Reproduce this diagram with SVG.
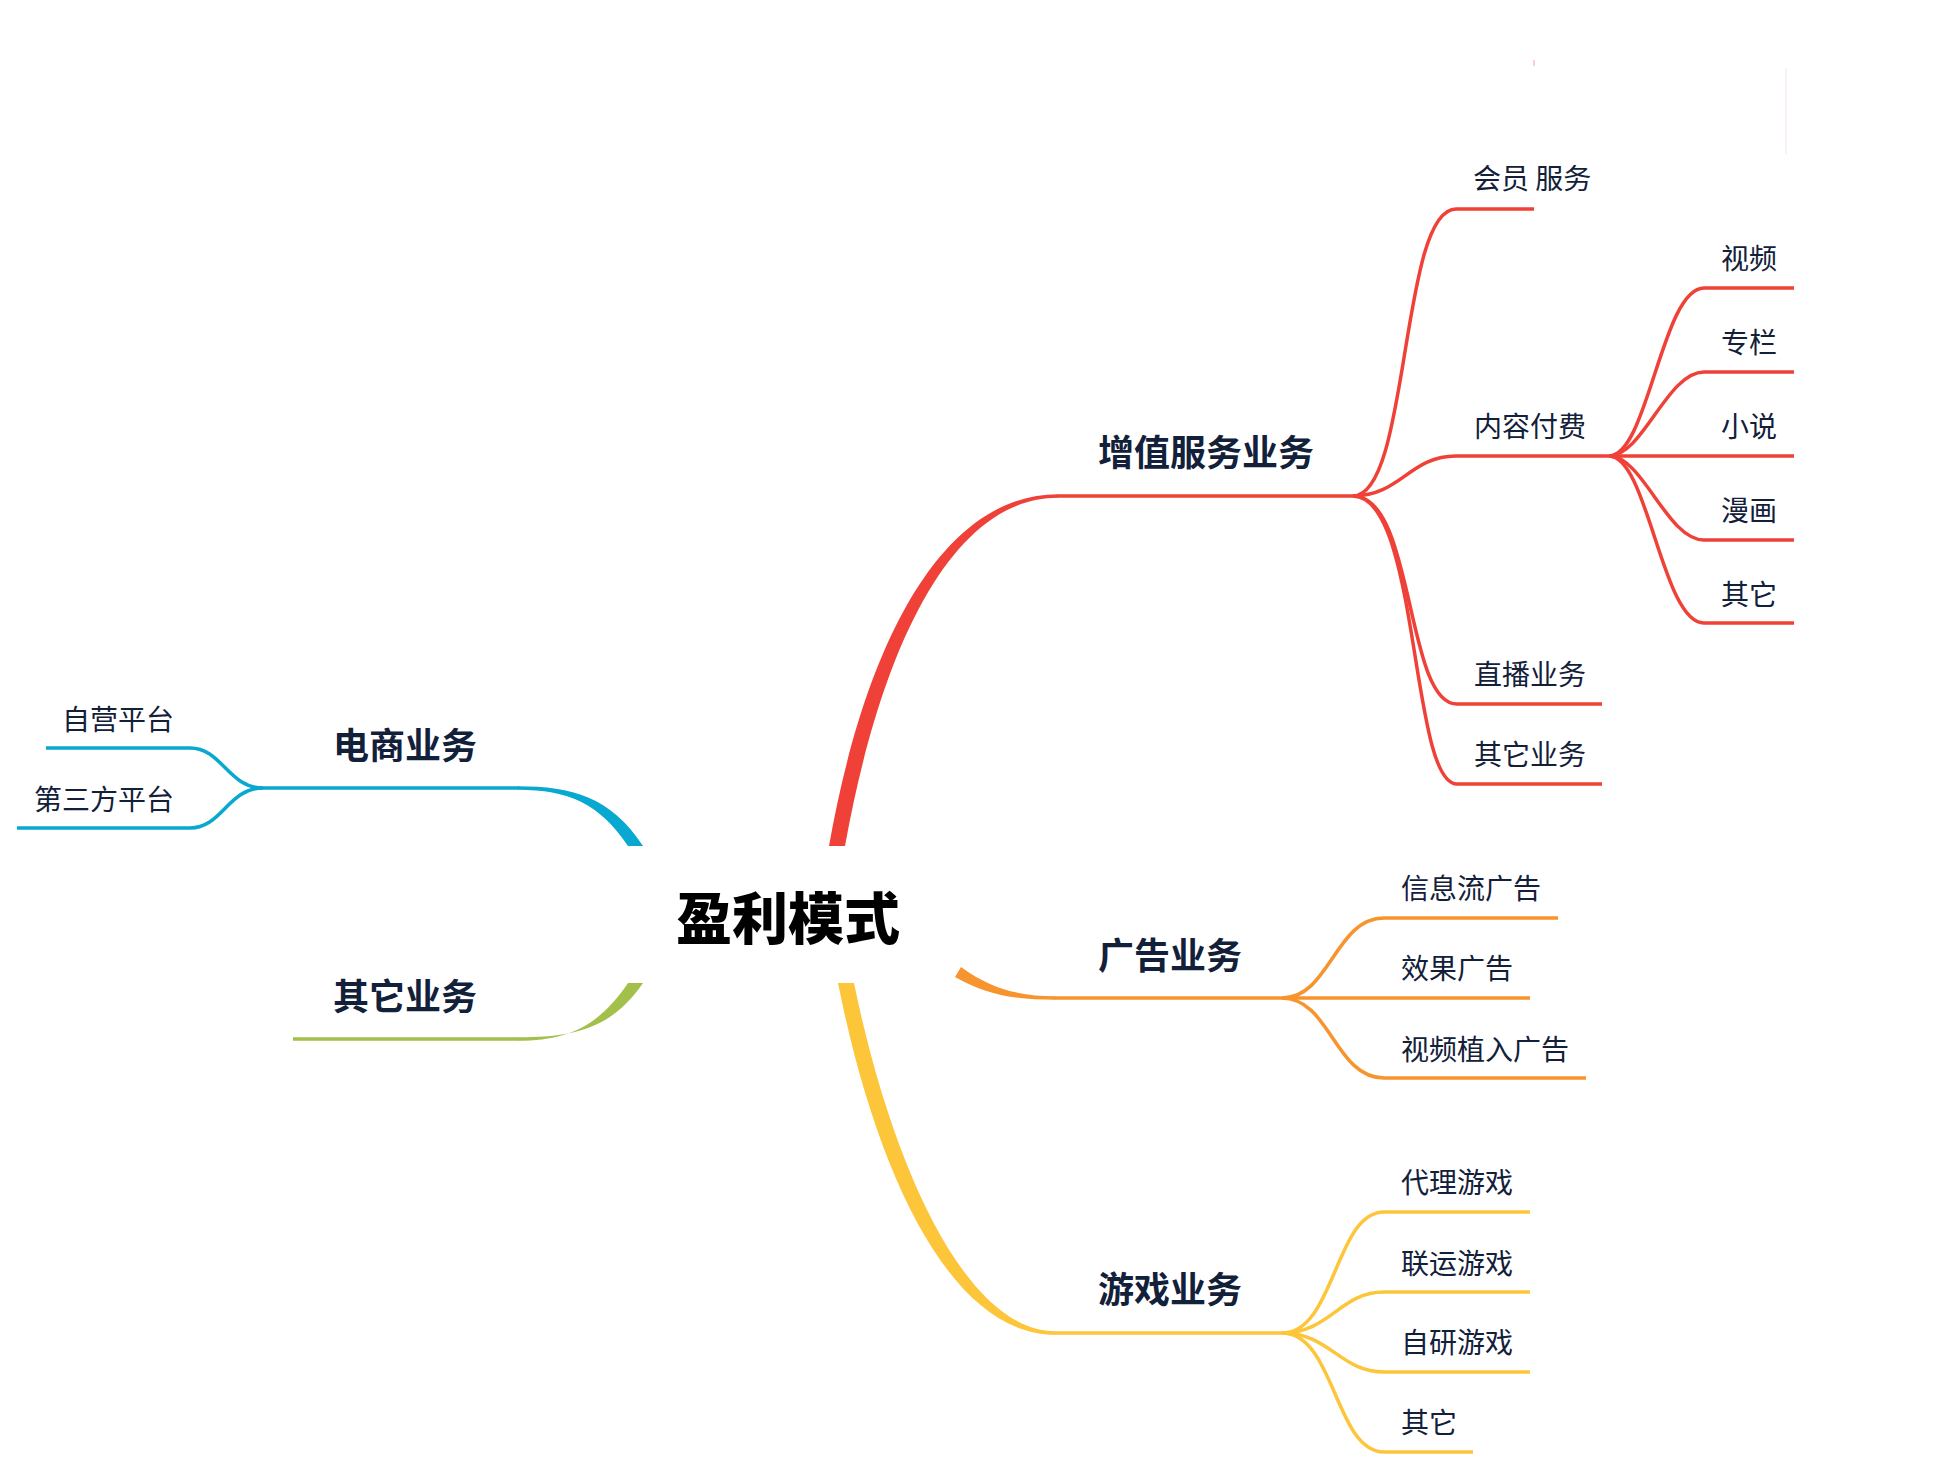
<svg xmlns="http://www.w3.org/2000/svg" width="1951" height="1483" viewBox="0 0 1951 1483">
<style>
.t{font-family:"Noto Sans CJK SC","Noto Sans CJK JP",sans-serif;fill:#12203A;dominant-baseline:central}
.b{font-size:36px;font-weight:700}
.s{font-size:28px;font-weight:400}
.root{font-family:"Noto Sans CJK SC",sans-serif;font-size:56px;font-weight:900;fill:#000;dominant-baseline:central}
.ln{fill:none;stroke-width:3.5;stroke-linecap:butt}
.red{stroke:#EF4137}.org{stroke:#F7942E}.yel{stroke:#FDC63A}.grn{stroke:#A3C14A}.blu{stroke:#08A8D0}
</style>
<rect width="1951" height="1483" fill="#fff"/>
<line x1="1534" y1="60" x2="1534" y2="66" stroke="#F4A0A0" stroke-width="1"/>
<line x1="1786" y1="68" x2="1786" y2="154" stroke="#F8E4E4" stroke-width="1"/>
<g id="connectors">
  <path fill="#EF4137" d="M829,846 C864,648 940,494.25 1058,494.25 L1058,497.75 C950,497.75 880,652 845,846 Z"/>
  <path fill="#08A8D0" d="M643,846 C611,797 572,786.25 518,786.25 L518,789.75 C568,789.75 599,803 628,846 Z"/>
  <path fill="#A3C14A" d="M643,983 C611,1030 572,1037.25 518,1037.25 L518,1040.75 C568,1040.75 599,1026 628,983 Z"/>
  <path fill="#FDC63A" d="M838,983 C877,1178 952,1334.75 1055,1334.75 L1055,1331.25 C968,1331.25 893,1172 854,983 Z"/>
  <path fill="#F7942E" d="M961,967 C992,990 1022,996.25 1055,996.25 L1055,999.75 C1018,999.75 988,996 955,977 Z"/>
  <path class="ln red" d="M1057,496 L1353,496"/>
  <path class="ln red" d="M1353,496 C1410,496 1400,209 1456,209 L1534,209"/>
  <path class="ln red" d="M1353,496 C1400,496 1410,456 1456,456 L1609,456"/>
  <path class="ln red" d="M1353,496 C1415,496 1405,704 1457,704 L1602,704"/>
  <path class="ln red" d="M1353,496 C1420,496 1410,784 1457,784 L1602,784"/>
  <path class="ln red" d="M1609,456 C1648,456 1662,288 1704,288 L1794,288"/>
  <path class="ln red" d="M1609,456 C1643,456 1667,372 1704,372 L1794,372"/>
  <path class="ln red" d="M1609,456 L1794,456"/>
  <path class="ln red" d="M1609,456 C1643,456 1667,540 1704,540 L1794,540"/>
  <path class="ln red" d="M1609,456 C1648,456 1662,623 1704,623 L1794,623"/>
  <path class="ln org" d="M1054,998 L1282,998"/>
  <path class="ln org" d="M1282,998 C1330,998 1335,918 1384,918 L1558,918"/>
  <path class="ln org" d="M1282,998 L1530,998"/>
  <path class="ln org" d="M1282,998 C1330,998 1335,1078 1384,1078 L1586,1078"/>
  <path class="ln yel" d="M1054,1333 L1282,1333"/>
  <path class="ln yel" d="M1282,1333 C1335,1333 1335,1212 1384,1212 L1530,1212"/>
  <path class="ln yel" d="M1282,1333 C1330,1333 1340,1292 1384,1292 L1530,1292"/>
  <path class="ln yel" d="M1282,1333 C1330,1333 1340,1372 1384,1372 L1530,1372"/>
  <path class="ln yel" d="M1282,1333 C1335,1333 1335,1452 1384,1452 L1473,1452"/>
  <path class="ln blu" d="M519,788 L263,788"/>
  <path class="ln blu" d="M263,788 C228,788 222,748 190,748 L46,748"/>
  <path class="ln blu" d="M263,788 C228,788 222,828 190,828 L17,828"/>
  <path class="ln grn" d="M519,1039 L293,1039"/>
</g>
<g id="root"><text class="root" x="676" y="914">盈利模式</text></g>
<g id="n-zengzhi"><text class="t b" x="1098" y="450">增值服务业务</text></g>
<g id="n-guanggao"><text class="t b" x="1098" y="953">广告业务</text></g>
<g id="n-youxi"><text class="t b" x="1098" y="1287">游戏业务</text></g>
<g id="n-dianshang"><text class="t b" x="333" y="743">电商业务</text></g>
<g id="n-qita-left"><text class="t b" x="333" y="994">其它业务</text></g>
<g id="n-huiyuan"><text class="t s" x="1473" y="177">会员 服务</text></g>
<g id="n-neirong"><text class="t s" x="1474" y="425">内容付费</text></g>
<g id="n-zhibo"><text class="t s" x="1474" y="673">直播业务</text></g>
<g id="n-qitayewu"><text class="t s" x="1474" y="753">其它业务</text></g>
<g id="n-shipin"><text class="t s" x="1721" y="257">视频</text></g>
<g id="n-zhuanlan"><text class="t s" x="1721" y="341">专栏</text></g>
<g id="n-xiaoshuo"><text class="t s" x="1721" y="425">小说</text></g>
<g id="n-manhua"><text class="t s" x="1721" y="509">漫画</text></g>
<g id="n-qita1"><text class="t s" x="1721" y="593">其它</text></g>
<g id="n-xinxiliu"><text class="t s" x="1401" y="887">信息流广告</text></g>
<g id="n-xiaoguo"><text class="t s" x="1401" y="967">效果广告</text></g>
<g id="n-zhiru"><text class="t s" x="1401" y="1048">视频植入广告</text></g>
<g id="n-daili"><text class="t s" x="1401" y="1181">代理游戏</text></g>
<g id="n-lianyun"><text class="t s" x="1401" y="1262">联运游戏</text></g>
<g id="n-ziyan"><text class="t s" x="1401" y="1341">自研游戏</text></g>
<g id="n-qita2"><text class="t s" x="1401" y="1421">其它</text></g>
<g id="n-ziying"><text class="t s" x="62" y="718">自营平台</text></g>
<g id="n-disanfang"><text class="t s" x="34" y="798">第三方平台</text></g>
</svg>
